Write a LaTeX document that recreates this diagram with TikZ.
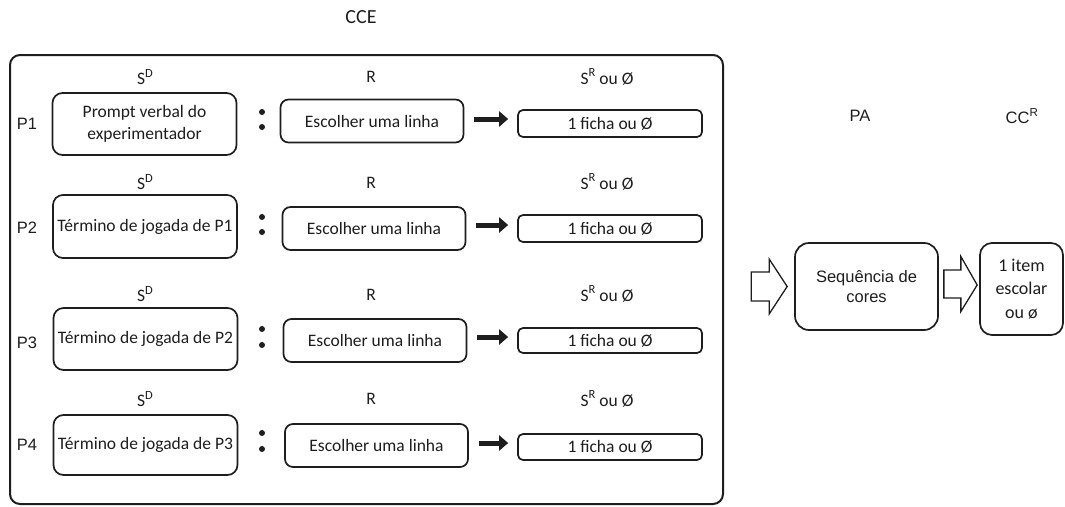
\documentclass[tikz,border=0pt]{standalone}
\usepackage{fontspec}
\setmainfont{Carlito}
\newfontfamily\arialf{Liberation Sans}
\usetikzlibrary{arrows.meta,calc}
\definecolor{ink}{HTML}{1E1E1E}
\newcommand{\supx}[1]{\raisebox{0.42em}{\fontsize{12.5}{12.5}\selectfont #1}}
\begin{document}
\begin{tikzpicture}[x=1pt,y=-1pt,
  lbl/.style={text=ink, inner sep=0pt, font=\fontsize{17.5}{21}\selectfont},
  plbl/.style={text=ink, inner sep=0pt, font=\arialf\fontsize{16.5}{19}\selectfont},
  sdbox/.style={draw=ink, line width=1.7pt, rounded corners=10pt, minimum width=184pt, minimum height=62pt, inner sep=0pt, align=center, text=ink, font=\fontsize{17.5}{22}\selectfont},
  rbox/.style={draw=ink, line width=1.7pt, rounded corners=8pt, minimum width=183pt, minimum height=43pt, inner sep=0pt, text=ink, font=\fontsize{17.5}{20}\selectfont},
  srbox/.style={draw=ink, line width=1.7pt, rounded corners=5pt, minimum width=184pt, minimum height=26pt, inner sep=0pt, text=ink, font=\fontsize{17.5}{20}\selectfont},
  dotn/.style={circle, fill=ink, minimum size=6pt, inner sep=0pt},
  fat/.style={draw=ink, line width=5pt, -{Triangle[length=9pt,width=15pt]}, shorten <=10pt, shorten >=9pt},
  hollow/.style={draw=ink, line width=1.3pt, fill=white, line join=miter},
  bigbox/.style={draw=ink, line width=1.7pt, rounded corners=14pt, inner sep=0pt, align=center, text=ink}
]
\useasboundingbox (0,0) rectangle (1065,506);
\fill[white] (0,0) rectangle (1065,506);

% title and frame
\node[lbl, font=\fontsize{20}{24}\selectfont] (cce) at (361,17) {CCE};
\draw[ink, line width=2pt, rounded corners=10pt] (10,55) rectangle (723,504);

% row 1
\node[lbl] (h1a) at (145,77) {S\supx{D}};
\node[lbl] (h1b) at (371,77) {R};
\node[lbl] (h1c) at (607,77) {S\supx{R} ou Ø};
\node[plbl] (p1) at (27,124) {P1};
\node[sdbox] (sd1) at (144.5,124) {Prompt verbal do\\experimentador};
\node[dotn] (c1a) at (262,112) {};
\node[dotn] (c1b) at (262,127) {};
\node[rbox] (r1) at (372,121) {Escolher uma linha};
\node[srbox, minimum height=27pt] (sr1) at (610,123.5) {1 ficha ou Ø};
\draw[fat] ([yshift=2pt]r1.east) -- ([yshift=2pt]r1.east -| sr1.west);

% row 2
\node[lbl] (h2a) at (145,182) {S\supx{D}};
\node[lbl] (h2b) at (371,183) {R};
\node[lbl] (h2c) at (607,182) {S\supx{R} ou Ø};
\node[plbl] (p2) at (27,228) {P2};
\node[sdbox, minimum height=63pt] (sd2) at (145,226.5) {Término de jogada de P1};
\node[dotn] (c2a) at (262,217) {};
\node[dotn] (c2b) at (262,232) {};
\node[rbox] (r2) at (374,228.5) {Escolher uma linha};
\node[srbox, minimum height=27pt] (sr2) at (610,228.5) {1 ficha ou Ø};
\draw[fat] ([yshift=3.5pt]r2.east) -- ([yshift=3.5pt]r2.east -| sr2.west);

% row 3
\node[lbl] (h3a) at (145,294) {S\supx{D}};
\node[lbl] (h3b) at (371,295) {R};
\node[lbl] (h3c) at (607,294) {S\supx{R} ou Ø};
\node[plbl] (p3) at (27,343) {P3};
\node[sdbox] (sd3) at (145.5,339) {Término de jogada de P2};
\node[dotn] (c3a) at (262,329) {};
\node[dotn] (c3b) at (262,345) {};
\node[rbox] (r3) at (375,340.5) {Escolher uma linha};
\node[srbox, minimum height=25pt] (sr3) at (610,340.5) {1 ficha ou Ø};
\draw[fat] ([yshift=3.5pt]r3.east) -- ([yshift=3.5pt]r3.east -| sr3.west);

% row 4
\node[lbl] (h4a) at (145,399) {S\supx{D}};
\node[lbl] (h4b) at (371,399) {R};
\node[lbl] (h4c) at (607,399) {S\supx{R} ou Ø};
\node[plbl] (p4) at (27,445) {P4};
\node[sdbox, minimum height=60pt] (sd4) at (145.5,445) {Término de jogada de P3};
\node[dotn] (c4a) at (262,433) {};
\node[dotn] (c4b) at (262,449) {};
\node[rbox] (r4) at (376.5,445.5) {Escolher uma linha};
\node[srbox] (sr4) at (610,447) {1 ficha ou Ø};
\draw[fat] ([yshift=2.5pt]r4.east) -- ([yshift=2.5pt]r4.east -| sr4.west);

% right part
\node[plbl] (pa) at (860,116) {PA};
\node[plbl] (ccr) at (1022,116) {CC\textsuperscript{R}};
\node[bigbox, minimum width=143pt, minimum height=87pt, font=\arialf\fontsize{16.5}{19.5}\selectfont] (seq) at (866.5,286.5) {Sequência de\\cores};
\node[bigbox, rounded corners=12pt, minimum width=83pt, minimum height=92pt, font=\fontsize{18}{23.5}\selectfont] (item) at (1021.5,289) {1 item\\escolar\\ou ø};

% hollow arrows
\draw[hollow] ($(seq.west)+(-43,-14.5)$) -- ++(18,0) -- ++(0,-13) -- ($(seq.west)+(-7,0)$)
  -- ($(seq.west)+(-25,27.5)$) -- ++(0,-13) -- ++(-18,0) -- cycle;
\draw[hollow] ($(seq.east)+(5,-16.5)$) -- ++(17,0) -- ++(0,-13.5) -- ($(item.west)+(-2,-4)$)
  -- ($(seq.east)+(22,25)$) -- ++(0,-13.5) -- ++(-17,0) -- cycle;
\end{tikzpicture}
\end{document}
